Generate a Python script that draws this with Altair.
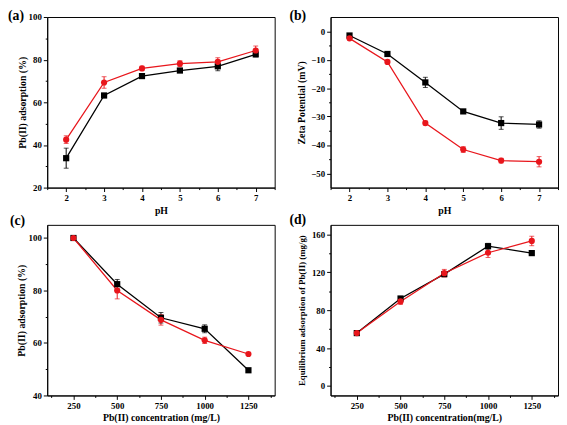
import altair as alt
import pandas as pd

series = ["AN", "Q-AN"]
colors = ["#000000", "#e8161c"]
shapes = ["square", "circle"]

ph = [2, 3, 4, 5, 6, 7]
a_an = [33.8, 63.2, 72.3, 74.9, 76.9, 82.5]
a_an_err = [4.7, 1.0, 1.0, 0.8, 2.1, 1.2]
a_qan = [42.5, 69.3, 75.9, 78.1, 79.0, 84.3]
a_qan_err = [1.8, 2.7, 1.0, 1.4, 1.9, 2.1]

b_an = [-1.5, -8.0, -18.0, -28.2, -32.3, -32.8]
b_an_err = [0.6, 0.8, 1.8, 0.6, 2.2, 1.3]
b_qan = [-2.5, -10.8, -32.3, -41.6, -45.5, -45.9]
b_qan_err = [0.6, 0.6, 0.7, 1.0, 0.8, 1.8]

conc = [250, 500, 750, 1000, 1250]
c_an = [100.0, 82.4, 69.6, 65.4, 49.6]
c_an_err = [0.3, 1.8, 2.0, 1.5, 0.5]
c_qan = [100.0, 80.0, 68.8, 61.0, 55.8]
c_qan_err = [0.3, 3.2, 2.0, 1.2, 0.5]

d_an = [55.8, 92.3, 118.0, 147.5, 140.2]
d_an_err = [0.5, 1.5, 2.0, 3.0, 1.0]
d_qan = [55.8, 89.2, 119.0, 140.6, 153.0]
d_qan_err = [0.5, 3.0, 4.0, 5.0, 5.0]

FONT = "Liberation Serif"
W, H = 232, 174


def major_axis(orient, vals, title, tpad, tsize):
    return alt.Axis(values=vals, orient=orient, tickSize=4, tickColor="black",
                    domainColor="black", labelColor="black", labelFont=FONT,
                    labelFontSize=9, labelFontWeight="bold", labelPadding=2,
                    labelOverlap=False, labelFlush=False, grid=False, format="d",
                    title=title, titleFont=FONT, titleFontSize=tsize,
                    titleFontWeight="bold", titleColor="black", titlePadding=tpad)


def minor_axis(orient, vals):
    return alt.Axis(values=vals, orient=orient, tickSize=2, tickColor="black",
                    labels=False, domain=False, grid=False, title="")


def legend_def(show):
    if not show:
        return None
    return alt.Legend(title=None, orient="none", legendX=173, legendY=2,
                      strokeColor="black", fillColor="white", padding=5,
                      symbolSize=40, symbolOffset=8, symbolStrokeWidth=0,
                      labelOffset=8, labelFont=FONT,
                      labelFontSize=9.5, labelFontWeight="bold",
                      labelColor="black", rowPadding=3)


def panel(xv, an, an_err, qan, qan_err, xdom, xvals, xminor, ydom, yvals, yminor,
          xtitle, ytitle, label, ldx, ldy, ytpad, ytsize, legend=False):
    n = len(xv)
    ys = an + qan
    es = an_err + qan_err
    df = pd.DataFrame({
        "x": list(xv) * 2,
        "y": ys,
        "lo": [v - e for v, e in zip(ys, es)],
        "hi": [v + e for v, e in zip(ys, es)],
        "series": ["AN"] * n + ["Q-AN"] * n,
    })
    xs = alt.Scale(domain=xdom, nice=False, zero=False)
    yscale = alt.Scale(domain=ydom, nice=False, zero=False)
    cscale = alt.Scale(domain=series, range=colors)
    col = alt.Color("series:N", scale=cscale, legend=None)
    base = alt.Chart(df)
    nx = alt.X("x:Q", scale=xs, axis=None)
    ny = alt.Y("y:Q", scale=yscale, axis=None)

    lines = base.mark_line(strokeWidth=1.3).encode(
        x=alt.X("x:Q", scale=xs, axis=major_axis("bottom", xvals, xtitle, 3, 10)),
        y=alt.Y("y:Q", scale=yscale,
                axis=major_axis("left", yvals, ytitle, ytpad, ytsize)),
        color=col)
    minor = base.mark_rule(strokeWidth=1).encode(
        x=alt.X("x:Q", scale=xs, axis=minor_axis("bottom", xminor)),
        y=alt.Y("lo:Q", scale=yscale, axis=minor_axis("left", yminor)),
        y2="hi:Q", color=col)
    cap_lo = base.mark_tick(orient="horizontal", size=5, thickness=1).encode(
        x=nx, y=alt.Y("lo:Q", scale=yscale, axis=None), color=col)
    cap_hi = base.mark_tick(orient="horizontal", size=5, thickness=1).encode(
        x=nx, y=alt.Y("hi:Q", scale=yscale, axis=None), color=col)
    pts = base.mark_point(size=40, filled=True, opacity=1).encode(
        x=nx, y=ny,
        color=alt.Color("series:N", scale=cscale, legend=legend_def(legend)),
        shape=alt.Shape("series:N", scale=alt.Scale(domain=series, range=shapes),
                        legend=legend_def(legend)))
    lab = alt.Chart(pd.DataFrame({"t": [label]})).mark_text(
        font=FONT, fontSize=14, fontWeight="bold", align="left",
        baseline="middle", color="black").encode(
        x=alt.value(ldx), y=alt.value(ldy), text="t:N")
    layers = [lines, minor, cap_lo, cap_hi, pts, lab]
    out = alt.layer(*layers).resolve_axis(x="independent", y="independent")
    return out.properties(width=W, height=H)


minor_ph = [1.5, 2.5, 3.5, 4.5, 5.5, 6.5, 7.5]
minor_conc = [125, 375, 625, 875, 1125, 1375]

pa = panel(ph, a_an, a_an_err, a_qan, a_qan_err, [1.5, 7.5], ph, minor_ph,
           [20, 100], [20, 40, 60, 80, 100], [30, 50, 70, 90],
           "pH", "Pb(II) adsorption (%)", "(a)", -40, -1, 1, 10, legend=True)
pb = panel(ph, b_an, b_an_err, b_qan, b_qan_err, [1.5, 7.5], ph, minor_ph,
           [-55, 5], [-50, -40, -30, -20, -10, 0], [-45, -35, -25, -15, -5],
           "pH", "Zeta Potential (mV)", "(b)", -42, -1, 4, 10)
pc = panel(conc, c_an, c_an_err, c_qan, c_qan_err, [100, 1400], conc, minor_conc,
           [40, 105], [40, 60, 80, 100], [50, 70, 90],
           "Pb(II) concentration (mg/L)", "Pb(II) adsorption (%)", "(c)", -38, -4, 2, 10)
pd_ = panel(conc, d_an, d_an_err, d_qan, d_qan_err, [100, 1400], conc, minor_conc,
            [-10, 170], [0, 40, 80, 120, 160], [20, 60, 100, 140],
            "Pb(II) concentration(mg/L)",
            "Equilibrium adsorption of Pb(II) (mg/g)", "(d)", -42, -5, 5, 9)

chart = alt.concat(pa, pb, pc, pd_, columns=2).properties(
    spacing={"row": 38, "column": 57}, bounds="flush",
    padding={"left": -1, "top": -4, "right": 0, "bottom": 0},
    background="white",
).configure_view(stroke="black", strokeWidth=1)

chart.save("out.html", embed_options={"renderer": "svg", "actions": False})
